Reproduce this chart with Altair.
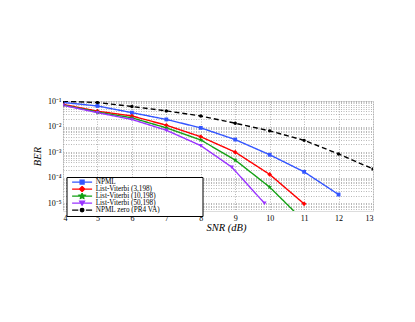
import math
import altair as alt
import pandas as pd

# ---------------- data ----------------
series_names = ["NPML", "List-Viterbi (3,198)", "List-Viterbi (10,198)",
                "List-Viterbi (50,198)", "NPML zero (PR4 VA)"]

npml_x = [4, 5, 6, 7, 8, 9, 10, 11, 12]
npml_y = [0.088, 0.064, 0.035, 0.019, 0.0089, 0.0031, 7.9e-4, 1.7e-4, 2.2e-5]

lv3_x = [4, 5, 6, 7, 8, 9, 10, 11]
lv3_y = [0.074, 0.040, 0.026, 0.0113, 0.0040, 1.0e-3, 1.35e-4, 9.5e-6]

lv10_x = [4, 5, 6, 7, 8, 9, 10, 11]
lv10_y = [0.070, 0.037, 0.022, 0.0089, 0.0030, 4.9e-4, 4.3e-5, 2.0e-6]

lv50_x = [4, 5, 6, 7, 8, 8.9, 9.85]
lv50_y = [0.068, 0.035, 0.019, 0.0072, 0.0018, 2.6e-4, 1.0e-5]

zero_x = [4, 5, 6, 7, 8, 9, 10, 11, 12, 13]
zero_y = [0.098, 0.087, 0.061, 0.041, 0.026, 0.0135, 0.0068, 0.0029, 8.5e-4, 2.2e-4]

x_ticks = [4, 5, 6, 7, 8, 9, 10, 11, 12, 13]
y_decades = [-5, -4, -3, -2, -1]
y_labels = ["10⁻⁵", "10⁻⁴", "10⁻³", "10⁻²", "10⁻¹"]

# ---------------- styling ----------------
colors = ["#3355ff", "#ff0000", "#13a013", "#9933ff", "#000000"]
FONT = "Liberation Serif"

rows = []
for name, xs, ys in zip(series_names,
                        [npml_x, lv3_x, lv10_x, lv50_x, zero_x],
                        [npml_y, lv3_y, lv10_y, lv50_y, zero_y]):
    for a, b in zip(xs, ys):
        rows.append({"series": name, "snr": a, "ber": b})
df = pd.DataFrame(rows)


def star_path(scale=1.0, inner=0.45):
    pts = []
    for i in range(10):
        r = scale if i % 2 == 0 else scale * inner
        ang = -math.pi / 2 + i * math.pi / 5
        pts.append((r * math.cos(ang), r * math.sin(ang)))
    return "M" + "L".join(f"{p[0]:.3f},{p[1]:.3f}" for p in pts) + "Z"


def square_path(s):
    return f"M{-s},{-s}H{s}V{s}H{-s}Z"


def diamond_path(s):
    return f"M0,{-s}L{s},0L0,{s}L{-s},0Z"


def tri_down_path(s):
    return f"M{-s},{-s * 0.8}H{s}L0,{s * 0.9}Z"


def circle_path(r):
    return f"M{r},0A{r},{r} 0 1,1 {-r},0A{r},{r} 0 1,1 {r},0Z"


plot_shapes = [square_path(0.9), diamond_path(1.1), star_path(1.2),
               tri_down_path(1.0), circle_path(0.8)]

L = 5
legend_shapes = [
    f"M{-L},0H{L}" + square_path(1.0),
    f"M{-L},0H{L}" + diamond_path(1.3),
    f"M{-L},0H{L}" + star_path(1.5),
    f"M{-L},0H{L}" + tri_down_path(1.2),
    f"M{-L},0H-1.9M1.9,0H{L}" + circle_path(0.9),
]

# y axis tick values (decades + minor log ticks for grid)
y_vals = []
for d in range(-6, 0):
    for k in range(1, 10):
        v = k * 10.0 ** d
        if 5e-6 < v <= 0.1 + 1e-12:
            y_vals.append(v)
y_vals.append(0.1)
y_vals = sorted(set(round(v, 12) for v in y_vals))

e_expr = "round(log(datum.value)/LN10)"
lab = "''"
for d, s in zip(y_decades, y_labels):
    lab = f"{e_expr} == {d} ? '{s}' : ({lab})"
y_label_expr = f"abs(datum.value/pow(10,{e_expr}) - 1) < 0.001 ? ({lab}) : ''"

GRID = "#9a9a9a"
x_enc = alt.X("snr:Q",
              scale=alt.Scale(domain=[4, 13], nice=False, zero=False),
              axis=alt.Axis(values=x_ticks, title="SNR (dB)", format="d",
                            labelOverlap=False,
                            grid=True, gridColor=GRID, gridDash=[1, 1.5],
                            gridWidth=0.7, domain=False, ticks=False,
                            labelFont=FONT, labelFontSize=8, labelPadding=3,
                            labelColor="#000", titleFont=FONT,
                            titleFontStyle="italic", titleFontWeight="normal",
                            titleFontSize=10.5, titleColor="#000",
                            titlePadding=0, titleX=163))
y_enc = alt.Y("ber:Q",
              scale=alt.Scale(type="log", domain=[5e-6, 0.1], nice=False),
              axis=alt.Axis(values=y_vals, labelExpr=y_label_expr,
                            labelOverlap=False, title="BER",
                            grid=True, gridColor=GRID, gridDash=[1, 1.5],
                            gridWidth=0.7, domain=False, ticks=False,
                            labelFont=FONT, labelFontSize=8, labelPadding=2,
                            labelColor="#000", titleFont=FONT,
                            titleFontStyle="italic", titleFontWeight="normal",
                            titleFontSize=10.5, titleColor="#000",
                            titlePadding=5))

color_scale = alt.Scale(domain=series_names, range=colors)

lines = alt.Chart(df).mark_line(clip=True, strokeWidth=1.4).encode(
    x=x_enc, y=y_enc,
    color=alt.Color("series:N", scale=color_scale, legend=None),
    strokeDash=alt.StrokeDash("series:N",
                              scale=alt.Scale(domain=series_names,
                                              range=[[1, 0], [1, 0], [1, 0], [1, 0], [5, 3]]),
                              legend=None),
    detail="series:N",
)

points = alt.Chart(df).mark_point(clip=True, filled=True, opacity=1, size=18).encode(
    x=x_enc, y=y_enc,
    color=alt.Color("series:N", scale=color_scale, legend=None),
    shape=alt.Shape("series:N", scale=alt.Scale(domain=series_names, range=plot_shapes),
                    legend=None),
)

pad = "\u2800" * 8


def leg():
    return alt.Legend(title=None, labelExpr=f"datum.label + '{pad}'",
                      orient="none", legendX=3.5, legendY=76,
                      symbolSize=16, symbolStrokeWidth=1.3,
                      symbolOffset=10, labelOffset=10, rowPadding=-1.8,
                      clipHeight=6.2,
                      padding=2, offset=0,
                      strokeColor="#000", fillColor="#fff",
                      labelFont=FONT, labelFontSize=7.2, labelColor="#000",
                      labelBaseline="middle")


legend_layer = alt.Chart(df).transform_filter("false").mark_point(
    filled=True, opacity=1, size=16, strokeWidth=1.3).encode(
    x=x_enc, y=y_enc,
    fill=alt.Fill("series:N", scale=alt.Scale(domain=series_names, range=colors),
                  legend=leg()),
    stroke=alt.Stroke("series:N", scale=alt.Scale(domain=series_names, range=colors),
                      legend=leg()),
    shape=alt.Shape("series:N", scale=alt.Scale(domain=series_names, range=legend_shapes),
                    legend=leg()),
)

chart = alt.layer(lines, points, legend_layer).resolve_scale(
    shape="independent", color="independent", fill="independent",
    stroke="independent", strokeDash="independent"
).properties(
    width=310, height=110,
    autosize=alt.AutoSizeParams(type="none"),
    padding={"left": 55, "top": 93, "right": 30, "bottom": 100},
).configure_view(
    stroke="#000", strokeWidth=1
).configure(background="#ffffff")

chart.save("out.html", embed_options={"renderer": "svg", "actions": False})
